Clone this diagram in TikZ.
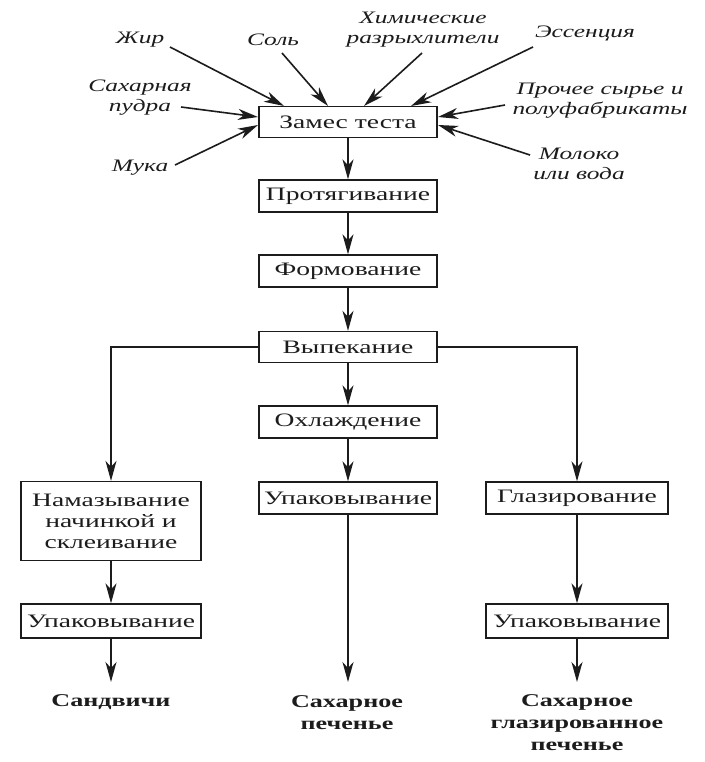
\documentclass[tikz,border=0pt]{standalone}
\usepackage{fontspec}
\setmainfont{Liberation Serif}
\newfontfamily\bxfont[FakeStretch=1.45]{Liberation Serif}
\usetikzlibrary{arrows.meta}
\definecolor{ink}{HTML}{1C1C1C}
\begin{document}
\begin{tikzpicture}[x=1pt,y=-1pt,
  proc/.style={draw=ink,line width=1.3pt,minimum width=178pt,minimum height=31pt,inner sep=2pt,text=ink,font=\bxfont\fontsize{19}{21}\selectfont,align=center},
  lab/.style={text=ink,font=\bxfont\itshape\fontsize{17.5}{20}\selectfont,align=center,inner sep=0pt},
  res/.style={text=ink,font=\bxfont\bfseries\fontsize{18}{22}\selectfont,align=center,inner sep=0pt},
  arr/.style={draw=ink,line width=1.6pt,-{Stealth[length=20pt,width=11pt,inset=6pt]}},
  ln/.style={draw=ink,line width=1.6pt}]
\useasboundingbox[fill=white] (0,0) rectangle (704,762);

% process boxes
\node[proc] (zam) at (348,122) {Замес теста};
\node[proc,minimum height=32pt] (prot) at (348,196) {Протягивание};
\node[proc,minimum height=32pt] (form) at (348,271) {Формование};
\node[proc] (vyp) at (348,347) {Выпекание};
\node[proc,minimum height=32pt] (okh) at (348,422) {Охлаждение};
\node[proc,minimum height=32pt] (upc) at (348,498) {Упаковывание};
\node[proc,minimum width=180pt,minimum height=79pt] (nam) at (111,521) {Намазывание\\начинкой и\\склеивание};
\node[proc,minimum width=182pt,minimum height=32pt] (glaz) at (577,498) {Глазирование};
\node[proc,minimum width=180pt,minimum height=34pt] (upl) at (111,621) {Упаковывание};
\node[proc,minimum width=182pt,minimum height=34pt] (upr) at (577,621) {Упаковывание};

% input labels
\node[lab] (zhir) at (140,40) {Жир};
\node[lab] (sol) at (273,40) {Соль};
\node[lab] (him) at (423,30) {Химические\\разрыхлители};
\node[lab] (ess) at (585,33) {Эссенция};
\node[lab] (sah) at (140,98) {Сахарная\\пудра};
\node[lab] (pro) at (600,101) {Прочее сырье и\\полуфабрикаты};
\node[lab] (muka) at (140,168) {Мука};
\node[lab] (mol) at (579,164) {Молоко\\или вода};

% results
\node[res] (sand) at (111,702) {Сандвичи};
\node[res] (sp) at (347,713) {Сахарное\\печенье};
\node[res] (sgp) at (577,723) {Сахарное\\глазированное\\печенье};

% arrow end points
\coordinate (zhirS) at (170,47);  \coordinate (zhirE) at (284,106);
\coordinate (solS) at (282,53);   \coordinate (solE) at (328,106);
\coordinate (himS) at (422,53);   \coordinate (himE) at (364,106);
\coordinate (essS) at (533,47);   \coordinate (essE) at (411,106);
\coordinate (sahS) at (181,107);  \coordinate (sahE) at (258,117);
\coordinate (mukaS) at (175,165); \coordinate (mukaE) at (258,125);
\coordinate (proS) at (505,105);  \coordinate (proE) at (438,117);
\coordinate (molS) at (530,155);  \coordinate (molE) at (438,125);

\foreach \a in {zhir,sol,him,ess,sah,muka,pro,mol}
  \draw[arr] (\a S) -- (\a E);

% main flow
\draw[arr] (zam) -- (prot);
\draw[arr] (prot) -- (form);
\draw[arr] (form) -- (vyp);
\draw[arr] (vyp) -- (okh);
\draw[arr] (okh) -- (upc);
\draw[arr] (vyp.west) -| (nam.north);
\draw[arr] (vyp.east) -| (glaz.north);
\draw[arr] (nam) -- (upl);
\draw[arr] (glaz) -- (upr);

\coordinate (e1) at (111,682);
\coordinate (e2) at (348,682);
\coordinate (e3) at (577,682);
\draw[arr] (upl.south) -- (e1);
\draw[arr] (upc.south) -- (e2);
\draw[arr] (upr.south) -- (e3);
\end{tikzpicture}
\end{document}
